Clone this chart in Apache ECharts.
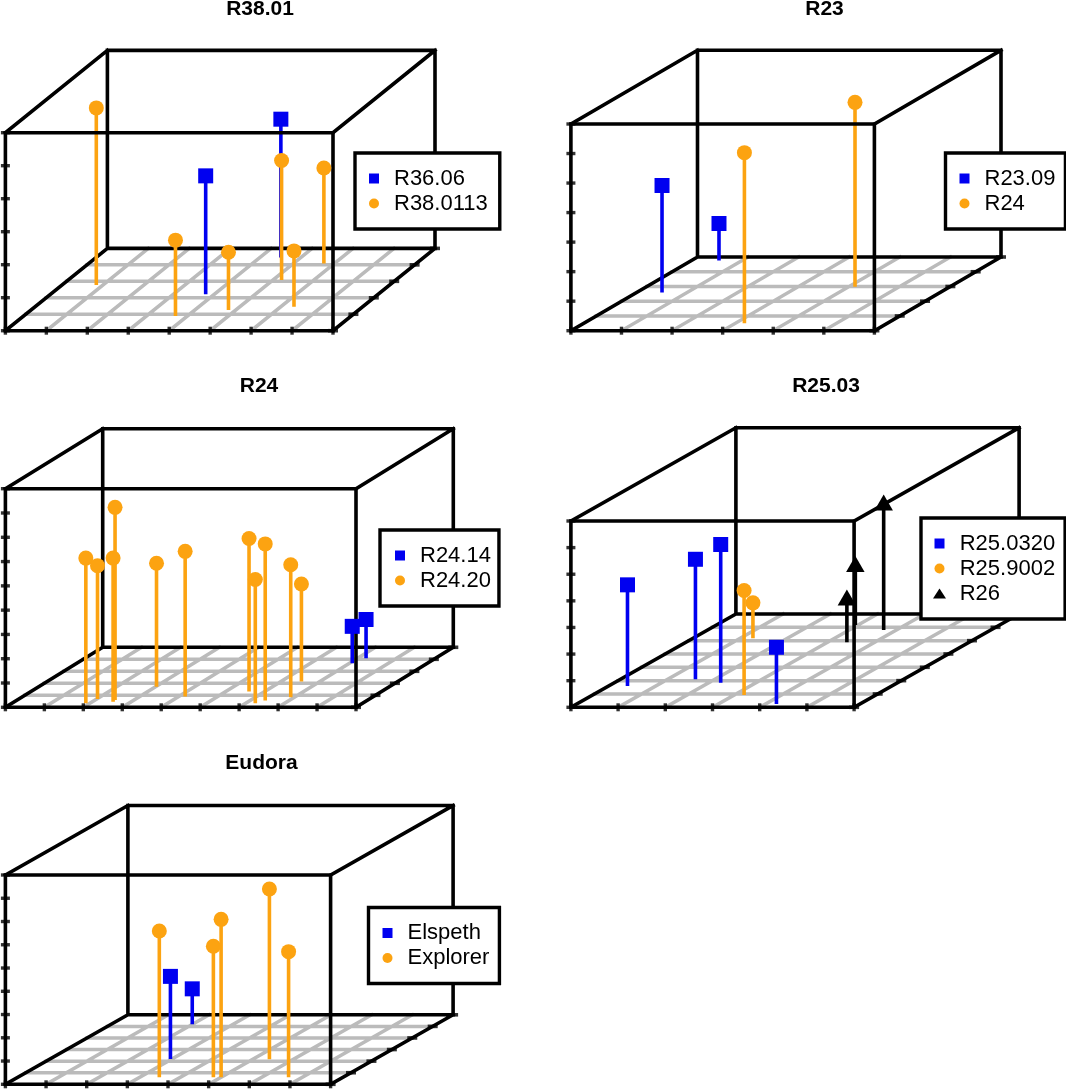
<!DOCTYPE html>
<html><head><meta charset="utf-8">
<style>html,body{margin:0;padding:0;background:#fff}#c{width:1066px;height:1089px}</style>
<script src="https://cdn.jsdelivr.net/npm/echarts@6/dist/echarts.min.js"></script>
</head><body><div id="c"></div>
<script>
// Each stem: [x, depth, height] in axis-division units
const p1Blue = [[3.79,2.21,3.59],[4.51,4.45,4.19]];
const p1Orange = [[0.84,2.77,5.37],[3.71,0.89,2.30],[4.82,1.26,1.75],[5.21,3.08,3.62],[6.32,1.46,1.69],[5.74,4.09,2.89]];
const p2Blue = [[0.50,2.60,3.62],[0.54,4.77,1.25]];
const p2Orange = [[3.18,0.50,5.78],[4.12,2.99,6.24]];
const p3Blue = [[7.07,3.67,1.52],[7.22,4.08,1.60]];
const p3Orange = [[1.90,0.33,5.98],[2.02,0.69,5.49],[2.51,0.61,7.93],[2.53,0.47,5.91],[3.02,1.72,5.08],[4.17,0.89,5.98],[5.60,1.31,6.30],[6.25,0.33,5.10],[6.39,0.56,6.45],[6.91,0.83,5.46],[6.53,2.14,4.02]];
const p4Blue = [[0.40,1.60,3.80],[1.59,2.10,4.51],[2.25,1.85,5.19],[4.23,0.25,2.13]];
const p4Orange = [[3.21,0.92,3.93],[1.27,5.18,1.33]];
const p4Black = [[3.41,4.88,1.68],[2.94,6.18,2.29],[3.73,5.80,4.79]];
const p5Blue = [[2.96,2.19,3.55],[1.99,5.19,1.52]];
const p5Orange = [[3.48,0.61,6.29],[4.81,0.61,5.63],[5.00,0.61,6.79],[5.41,2.16,7.32],[6.66,0.61,5.40]];

const titles = ['R38.01','R23','R24','R25.03','Eudora'];
const BLUE='#0000f0', ORANGE='#fca311', BLACK='#000', GRAY='#bbbbbb';
const SQUARE='path://M0 0H10V10H0Z';
const kinds = {
  blue:{color:BLUE,symbol:'rect',size:15,icon:SQUARE},
  orange:{color:ORANGE,symbol:'circle',size:15,icon:'circle'},
  black:{color:BLACK,symbol:'triangle',size:[18.5,16],icon:'triangle'}
};
// L,R,T,B front face px; dx,dy depth shift px; nx,nd,nz divisions
const panels = [
 {t:titles[0],tx:260,ty:-1,L:5.4,R:333,T:132.7,B:330.7,dx:102,dy:82.3,nx:8,nd:5,nz:6,iw:10,pl:14,tp:10,pr:12,
  sets:[['R36.06','blue',p1Blue],['R38.0113','orange',p1Orange]],lg:[355,153]},
 {t:titles[1],tx:824.5,ty:-1,L:570.9,R:874.4,T:124,B:330.7,dx:126.6,dy:73.7,nx:6,nd:5,nz:7,iw:10,pl:14,tp:10,pr:10,
  sets:[['R23.09','blue',p2Blue],['R24','orange',p2Orange]],lg:[945.5,153]},
 {t:titles[2],tx:259,ty:375.5,L:5.4,R:356,T:488.7,B:707.3,dx:97.3,dy:60,nx:9,nd:5,nz:9,iw:10,pl:15,tp:10,pr:8,
  sets:[['R24.14','blue',p3Blue],['R24.20','orange',p3Orange]],lg:[380,530]},
 {t:titles[3],tx:826,ty:375.5,L:570.9,R:854.1,T:521,B:707.3,dx:165,dy:93.3,nx:6,nd:7,nz:7,iw:13,pl:12,tp:8.7,pr:10,
  sets:[['R25.0320','blue',p4Blue],['R25.9002','orange',p4Orange],['R26','black',p4Black]],lg:[921,518]},
 {t:titles[4],tx:261.5,ty:752.5,L:5.4,R:330.6,T:875,B:1084.3,dx:122.5,dy:69.5,nx:8,nd:6,nz:9,iw:10,pl:14,tp:10,pr:10,
  sets:[['Elspeth','blue',p5Blue],['Explorer','orange',p5Orange]],lg:[368.5,907.5]}
];
const grid=[],xAxis=[],yAxis=[],series=[],legend=[],title=[];
panels.forEach((p,i)=>{
  const W=p.R-p.L,H=p.B-p.T;
  const ux=W/p.nx,uz=H/p.nz;
  const proj=(x,d,z)=>[x+d/p.nd*p.dx/ux, z+d/p.nd*p.dy/uz];
  grid.push({left:p.L,top:p.T-p.dy,width:W+p.dx,height:H+p.dy});
  xAxis.push({type:'value',gridIndex:i,min:0,max:(W+p.dx)/ux,show:false});
  yAxis.push({type:'value',gridIndex:i,min:0,max:(H+p.dy)/uz,show:false});
  title.push({text:p.t,left:p.tx,top:p.ty,textAlign:'center',padding:0,
    textStyle:{fontFamily:'Liberation Sans',fontWeight:'bold',fontSize:21,color:'#000'}});
  const seg=(pts,color,width,z)=>series.push({type:'line',xAxisIndex:i,yAxisIndex:i,silent:true,clip:false,
    symbol:'none',animation:false,z,data:pts,lineStyle:{color,width,cap:'square',join:'miter'},itemStyle:{color}});
  // floor grid
  const g=[];
  for(let k=1;k<p.nx;k++){g.push(proj(k,0,0),proj(k,p.nd,0),[null,null]);}
  for(let k=1;k<p.nd;k++){g.push(proj(0,k,0),proj(p.nx,k,0),[null,null]);}
  seg(g,GRAY,3.5,2);
  // back of box and side edges (drawn beneath the stems)
  seg([proj(0,p.nd,0),proj(0,p.nd,p.nz),proj(p.nx,p.nd,p.nz),proj(p.nx,p.nd,0),proj(0,p.nd,0),[null,null],
       proj(0,0,0),proj(0,p.nd,0),[null,null],proj(p.nx,0,0),proj(p.nx,p.nd,0),[null,null],
       proj(0,0,p.nz),proj(0,p.nd,p.nz),[null,null],proj(p.nx,0,p.nz),proj(p.nx,p.nd,p.nz)],BLACK,3.6,3);
  // front of box (over the stems, under the markers)
  seg([proj(0,0,0),proj(p.nx,0,0),proj(p.nx,0,p.nz),proj(0,0,p.nz),proj(0,0,0)],BLACK,3.6,4.5);
  // ticks
  const tick=(pts,size)=>series.push({type:'scatter',xAxisIndex:i,yAxisIndex:i,silent:true,clip:false,animation:false,z:4.5,
    symbol:'rect',symbolSize:size,data:pts,itemStyle:{color:BLACK}});
  const tz=[],tx=[],td=[];
  for(let k=0;k<=p.nz;k++)tz.push(proj(0,0,k));
  for(let k=0;k<=p.nx;k++)tx.push(proj(k,0,0));
  for(let k=0;k<=p.nd;k++)td.push(proj(p.nx,k,0));
  tick(tz,[9,3.4]);tick(tx,[3.4,8]);tick(td,[10,3.6]);
  // stems and markers
  p.sets.forEach(([name,kind,rows])=>{
    const K=kinds[kind];
    const d=[];
    rows.forEach(r=>{d.push(proj(r[0],r[1],0),proj(r[0],r[1],r[2]),[null,null]);});
    series.push({type:'line',name:name+' stem',xAxisIndex:i,yAxisIndex:i,clip:false,silent:true,animation:false,symbol:'none',z:4,
      data:d,lineStyle:{color:K.color,width:3.6,cap:'butt'}});
    series.push({type:'scatter',name,xAxisIndex:i,yAxisIndex:i,clip:false,silent:true,animation:false,z:5,
      symbol:K.symbol,symbolSize:K.size,data:rows.map(r=>proj(r[0],r[1],r[2])),itemStyle:{color:K.color,opacity:1}});
  });
  legend.push({orient:'vertical',left:p.lg[0],top:p.lg[1],z:20,selectedMode:false,
    backgroundColor:'#fff',borderColor:'#000',borderWidth:3.4,borderRadius:0,
    padding:[14.5,p.pr,14.5,p.pl],itemGap:3,itemWidth:p.iw,itemHeight:10,
    textStyle:{fontFamily:'Liberation Sans',fontSize:22,color:'#000',lineHeight:20,padding:[0,0,0,p.tp]},
    data:p.sets.map(([name,kind])=>({name,icon:kinds[kind].icon,itemStyle:{color:kinds[kind].color,opacity:1}}))});
});
const chart=echarts.init(document.getElementById('c'),null,{renderer:'canvas'});
chart.setOption({animation:false,backgroundColor:'#fff',title,grid,xAxis,yAxis,series,legend,tooltip:{show:false}});
</script></body></html>
